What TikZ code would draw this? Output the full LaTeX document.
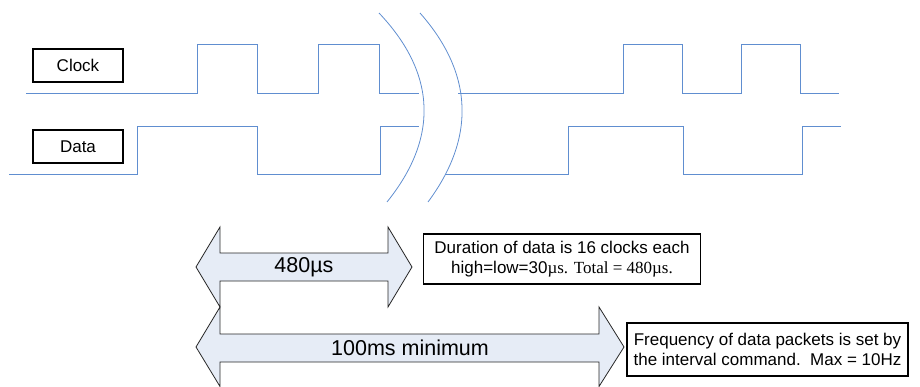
\documentclass[tikz,border=0pt]{standalone}
\usepackage{fontspec}
\setmainfont{Liberation Sans}
\newfontfamily\timesf{Liberation Serif}
\definecolor{sig}{RGB}{96,142,208}
\definecolor{arrfill}{RGB}{230,236,246}
\definecolor{arrdraw}{RGB}{40,40,40}
\tikzset{
  sigline/.style={draw=sig, line width=0.9pt},
  label box/.style={draw=black, line width=1.3pt, minimum width=90pt, minimum height=33pt, inner sep=0pt, font=\fontsize{17}{19}\selectfont},
  note box/.style={draw=black, line width=1.3pt, inner sep=0pt, align=center, font=\fontsize{17}{20}\selectfont},
  bigarrow/.style={fill=arrfill, draw=arrdraw, line width=0.8pt, line join=miter},
  arrow text/.style={font=\fontsize{21.5}{24}\selectfont, inner sep=0pt}
}
\begin{document}
\begin{tikzpicture}[x=1pt, y=-1pt]
\useasboundingbox (0,0) rectangle (920,387);
% labels
\node[label box] (clk) at (78,65.5) {Clock};
\node[label box] (dat) at (78,146.5) {Data};
% clock waveform
\draw[sigline] (26,93) -- (197,93) -- (197,44) -- (257,44) -- (257,93) -- (318,93) -- (318,44) -- (379,44) -- (379,93) -- (419,93);
\draw[sigline] (458,93) -- (623,93) -- (623,44) -- (682,44) -- (682,93) -- (741,93) -- (741,44) -- (800,44) -- (800,93) -- (839,93);
% data waveform
\draw[sigline] (9,174) -- (137,174) -- (137,126) -- (257,126) -- (257,174) -- (380,174) -- (380,126) -- (419,126);
\draw[sigline] (445,174) -- (568,174) -- (568,126) -- (683,126) -- (683,174) -- (802,174) -- (802,126) -- (841,126);
% break arcs
\draw[sigline, line width=0.8pt] (379,13) .. controls (437.7,75) and (437.7,139) .. (387,202);
\draw[sigline, line width=0.8pt] (420,13) .. controls (474.7,75) and (474.7,139) .. (428,202);
% 480us arrow
\draw[bigarrow] (196,267) -- (220,227) -- (220,253) -- (388,253) -- (388,227) -- (412,267) -- (388,307) -- (388,281) -- (220,281) -- (220,307) -- cycle;
\node[arrow text] (a480) at (304,267) {480µs};
% 100ms arrow
\draw[bigarrow] (196,347) -- (220,307) -- (220,334) -- (599,334) -- (599,307) -- (624,347) -- (599,386.5) -- (599,362) -- (220,362) -- (220,386.5) -- cycle;
\node[arrow text] (a100) at (410,348) {100ms minimum};
% notes
\node[note box, minimum width=277pt, minimum height=50pt] (dur) at (562,259) {Duration of data is 16 clocks each\\high=low=30{\timesf µs. Total = 480µs.}};
\node[note box, minimum width=281pt, minimum height=53pt] (freq) at (767.5,349.5) {Frequency of data packets is set by\\the interval command.\ \ Max = 10Hz};
\end{tikzpicture}
\end{document}
